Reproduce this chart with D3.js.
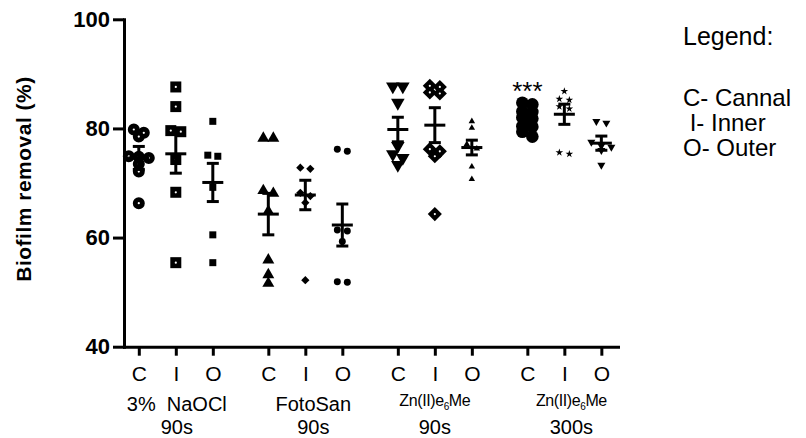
<!DOCTYPE html>
<html>
<head>
<meta charset="utf-8">
<script src="https://cdn.jsdelivr.net/npm/d3@7"></script>
<style>
  body { margin: 0; background: #fff; }
  text { font-family: "Liberation Sans", Arial, sans-serif; fill: #000; }
</style>
</head>
<body>
<div id="chartArea"></div>
<script>
// values (biofilm removal %)
var sites = ["C", "I", "O"]
var groupNames = ["3%\u00a0 NaOCl", "FotoSan", "Zn(II)e|6|Me", "Zn(II)e|6|Me"]
var groupTimes = ["90s", "90s", "90s", "300s"]
var yTicks = [40, 60, 80, 100]
var legendLines = ["C- Cannal", " I- Inner", "O- Outer"]

var naoclC = [79.8, 79.2, 78.5, 74.9, 74.8, 74.6, 73.5, 72.1, 66.3]
var naoclI = [87.6, 84.0, 79.6, 79.4, 74.3, 68.3, 55.4]
var naoclO = [81.3, 75.1, 74.9, 69.2, 60.5, 55.4]
var fotoC = [78.2, 78.2, 68.6, 68.1, 64.8, 55.9, 53.2, 51.6]
var fotoI = [72.8, 72.6, 68.2, 67.6, 66.4, 52.2]
var fotoO = [76.2, 75.8, 61.4, 61.2, 59.3, 51.9, 51.8]
var zn90C = [87.7, 87.7, 84.7, 76.8, 75.3, 74.6, 73.3]
var zn90I = [87.8, 87.6, 86.6, 86.4, 76.2, 75.8, 74.9, 64.3]
var zn90O = [81.3, 80.1, 77.1, 76.3, 73.0, 70.7]
var zn300C = [84.7, 84.4, 83.1, 83.0, 82.0, 81.8, 80.4, 80.3, 79.4, 78.5]
var zn300I = [86.8, 85.4, 85.2, 84.0, 83.6, 75.6, 75.3]
var zn300O = [81.3, 81.0, 77.5, 76.8, 76.6, 76.0, 73.3]

var means = [74.6, 75.35, 70.1, 64.3, 67.8, 62.3, 79.8, 80.6, 76.5, 81.8, 82.6, 77.3]
var sems = [2.1, 3.55, 3.5, 3.8, 2.7, 3.85, 2.25, 3.2, 1.35, 0.65, 1.85, 1.3]
var starText = "***"   // over Zn(II)e6Me 300s, C

var series = [naoclC, naoclI, naoclO, fotoC, fotoI, fotoO,
  zn90C, zn90I, zn90O, zn300C, zn300I, zn300O]

// marker look per series (GraphPad style symbols)
var markers = [
  { type: d3.symbolCircle, size: 113, hole: true },
  { type: d3.symbolSquare, size: 121, hole: true },
  { type: d3.symbolSquare, size: 49 },
  { type: d3.symbolTriangle, size: 62 },
  { type: d3.symbolSquare, size: 34, rotate: 45 },
  { type: d3.symbolCircle, size: 38 },
  { type: d3.symbolTriangle, size: 80, rotate: 180 },
  { type: d3.symbolSquare, size: 100, rotate: 45, hole: true },
  { type: d3.symbolTriangle, size: 18 },
  { type: d3.symbolCircle, size: 125 },
  { type: d3.symbolStar, size: 18 },
  { type: d3.symbolTriangle, size: 28, rotate: 180 }
]
var labelShift = [1, 8, 0, 7]

var width = 806, height = 438

var svg = d3.select("#chartArea")
  .append("svg")
  .attr("width", width)
  .attr("height", height)
  .style("display", "block")
  .style("background", "#fff")

// slot of each column: 3 columns per group, half a slot gap between groups
function slot(g, i) { return g * 3.5 + i }

var x = d3.scaleLinear().domain([-0.4, 12.95]).range([124, 618])
var y = d3.scaleLinear().domain([40, 100]).range([346.7, 19.3])

var slots = []
groupNames.forEach(function (n, g) {
  sites.forEach(function (s, i) { slots.push(slot(g, i)) })
})

// axes
var yAxis = d3.axisLeft(y).tickValues(yTicks).tickSize(11).tickSizeOuter(0).tickPadding(3)
var gy = svg.append("g").attr("transform", "translate(124,0)").call(yAxis)
gy.selectAll("text").style("font-size", "22px").style("font-weight", "bold")

var xAxis = d3.axisBottom(x).tickValues(slots)
  .tickFormat(function (d, i) { return sites[i % 3] })
  .tickSize(9).tickSizeOuter(0).tickPadding(10)
var gx = svg.append("g").attr("transform", "translate(0," + y(40) + ")").call(xAxis)
gx.selectAll("text").style("font-size", "21px")

svg.selectAll(".domain, .tick line")
  .attr("stroke", "#000")
  .attr("stroke-width", 3)
svg.selectAll(".domain").attr("stroke-linecap", "square")

// axis title
svg.append("text")
  .attr("transform", "rotate(-90)")
  .attr("x", -179)
  .attr("y", 31)
  .attr("text-anchor", "middle")
  .style("font-size", "21px")
  .style("font-weight", "bold")
  .style("letter-spacing", "0.5px")
  .text("Biofilm removal (%)")

// group labels under the axis
groupNames.forEach(function (name, g) {
  var cx = x(slot(g, 1)) + labelShift[g]
  var parts = name.split("|")
  var t = svg.append("text")
    .attr("x", cx)
    .attr("text-anchor", "middle")
  if (parts.length > 1) {
    t.attr("y", 406).style("font-size", "16px").style("letter-spacing", "-0.4px")
    t.append("tspan").text(parts[0])
    t.append("tspan").attr("dy", 4).style("font-size", "10px").text(parts[1])
    t.append("tspan").attr("dy", -4).text(parts[2])
  } else {
    t.attr("y", 411).style("font-size", "20px").style("white-space", "pre").text(name)
  }
  svg.append("text")
    .attr("x", cx)
    .attr("y", 434)
    .attr("text-anchor", "middle")
    .style("font-size", "20px")
    .text(groupTimes[g])
})

// scatter spread: points of nearly equal value share a row, spread sideways
function spread(values, cx) {
  var sorted = values.slice().sort(d3.descending)
  var rows = []
  sorted.forEach(function (v) {
    var last = rows[rows.length - 1]
    if (last && y(v) - y(last[0]) < 5) last.push(v)
    else rows.push([v])
  })
  var nodes = []
  rows.forEach(function (row) {
    row.forEach(function (v, j) {
      nodes.push({ v: v, x: cx + (j - (row.length - 1) / 2) * 10, y: y(v) })
    })
  })
  return nodes
}

var pts = svg.append("g")
series.forEach(function (vals, k) {
  var g = Math.floor(k / 3), i = k % 3
  var m = markers[k]
  var nodes = spread(vals, x(slot(g, i)))
  var sym = d3.symbol().type(m.type).size(m.size)
  nodes.forEach(function (n) {
    pts.append("path")
      .attr("d", sym())
      .attr("transform", "translate(" + n.x + "," + n.y + ") rotate(" + (m.rotate || 0) + ")")
      .attr("fill", "#000")
  })
  if (m.hole) {
    nodes.forEach(function (n) {
      pts.append("circle")
        .attr("cx", n.x).attr("cy", n.y).attr("r", 1.1)
        .attr("fill", "#fff")
    })
  }
})

// mean +/- SEM
var bars = svg.append("g").attr("stroke", "#000").attr("stroke-width", 3)
means.forEach(function (mu, k) {
  var cx = x(slot(Math.floor(k / 3), k % 3))
  var top = y(mu + sems[k]), bot = y(mu - sems[k])
  bars.append("line").attr("x1", cx).attr("x2", cx).attr("y1", top).attr("y2", bot)
  bars.append("line").attr("x1", cx - 6).attr("x2", cx + 6).attr("y1", top).attr("y2", top)
  bars.append("line").attr("x1", cx - 6).attr("x2", cx + 6).attr("y1", bot).attr("y2", bot)
  bars.append("line").attr("x1", cx - 10.5).attr("x2", cx + 10.5).attr("y1", y(mu)).attr("y2", y(mu))
})

svg.append("text")
  .attr("x", x(slot(3, 0)))
  .attr("y", 100)
  .attr("text-anchor", "middle")
  .style("font-size", "26px")
  .text(starText)

// legend
svg.append("text")
  .attr("x", 683).attr("y", 45)
  .style("font-size", "25px")
  .text("Legend:")
legendLines.forEach(function (s, i) {
  svg.append("text")
    .attr("x", 683).attr("y", 106 + i * 25)
    .style("font-size", "24px")
    .style("white-space", "pre")
    .text(s)
})
</script>
</body>
</html>
